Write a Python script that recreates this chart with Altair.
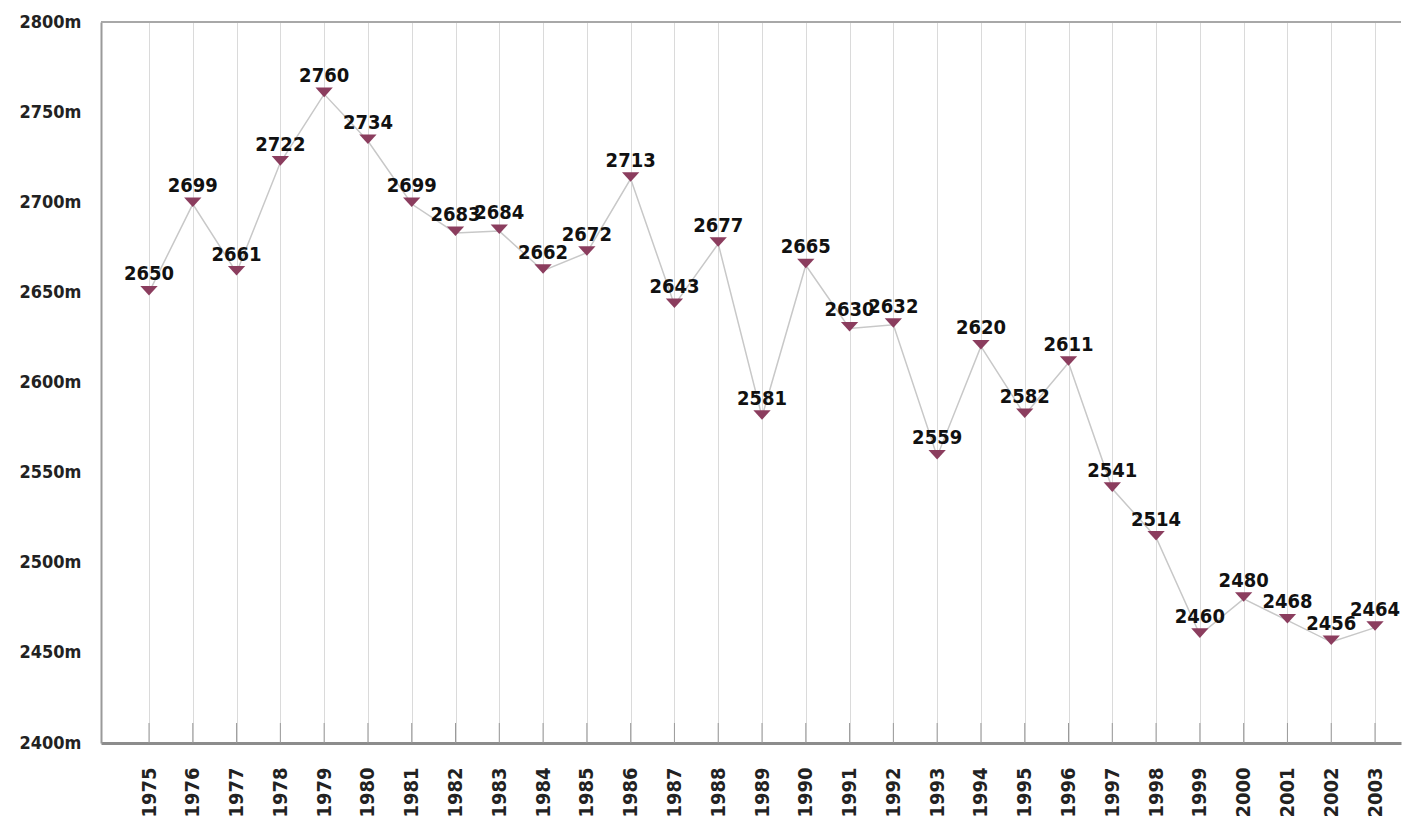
import altair as alt
import pandas as pd

years = list(range(1975, 2004))
heights = [2650, 2699, 2661, 2722, 2760, 2734, 2699, 2683, 2684, 2662,
           2672, 2713, 2643, 2677, 2581, 2665, 2630, 2632, 2559, 2620,
           2582, 2611, 2541, 2514, 2460, 2480, 2468, 2456, 2464]
y_ticks = [2400, 2450, 2500, 2550, 2600, 2650, 2700, 2750, 2800]

df = pd.DataFrame({"year": years, "height": heights})

W, H = 1300, 721
FONT = "'DejaVu Sans Condensed', 'Liberation Sans Narrow', 'DejaVu Sans', sans-serif"
step = 43.786
x_scale = alt.Scale(domain=[1975 - 48 / step, 1975 + (W - 48) / step], nice=False, zero=False)
y_scale = alt.Scale(domain=[2400, 2800], nice=False, zero=False)

base = alt.Chart(df)

x_enc = alt.X("year:Q", scale=x_scale,
              axis=alt.Axis(values=years, format="d", labelAngle=270, labelAlign="right",
                            labelBaseline="middle", labelPadding=24, ticks=False, grid=True,
                            gridColor="#dadada", gridWidth=1, domainColor="#8c8c8c",
                            domainWidth=3, labelFont=FONT, labelFontSize=20,
                            labelFontWeight="bold", labelColor="#222222", title=None))
y_enc = alt.Y("height:Q", scale=y_scale,
              axis=alt.Axis(values=y_ticks, labelExpr="datum.value + 'm'", grid=False,
                            ticks=False, domainColor="#9a9a9a", domainWidth=2,
                            labelPadding=20, labelFont=FONT, labelFontSize=18,
                            labelFontWeight="bold", labelColor="#222222", title=None))

top_rule = base.mark_rule(color="#a8a8a8", strokeWidth=1.5).encode(
    x=alt.value(0), x2=alt.value(W), y=alt.value(0))

inner_ticks = base.mark_rule(color="#9a9a9a", strokeWidth=1).encode(
    x=alt.X("year:Q", scale=x_scale), y=alt.value(H), y2=alt.value(H - 20))

line = base.mark_line(color="#c8c8c8", strokeWidth=1.5).encode(x=x_enc, y=y_enc)

points = base.mark_point(shape="M-1,-0.75L1,-0.75L0,0.35Z", filled=True, color="#8b3d5e",
                         size=300, opacity=1, strokeWidth=0).encode(
    x=alt.X("year:Q", scale=x_scale), y=alt.Y("height:Q", scale=y_scale))

labels = base.mark_text(font=FONT, fontSize=20, fontWeight="bold", color="#111111",
                        baseline="alphabetic", dy=-12).encode(
    x=alt.X("year:Q", scale=x_scale), y=alt.Y("height:Q", scale=y_scale),
    text=alt.Text("height:Q", format="d"))

chart = alt.layer(line, inner_ticks, top_rule, points, labels).properties(
    width=W, height=H,
    autosize=alt.AutoSizeParams(type="none"),
    padding={"left": 93, "top": 14, "right": 4, "bottom": 80},
    background="white",
).configure_view(strokeWidth=0)

chart.save("out.html", embed_options={"renderer": "svg", "actions": False})
